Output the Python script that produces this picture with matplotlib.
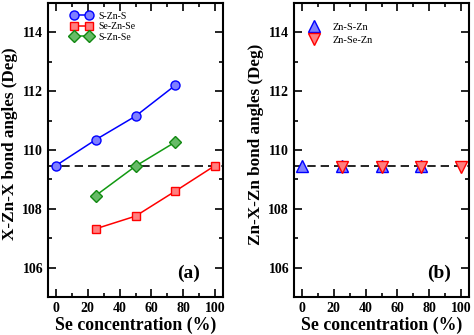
import matplotlib
matplotlib.use("Agg")
import matplotlib.pyplot as plt
from matplotlib.ticker import MultipleLocator

plt.rcParams['font.family'] = ['Liberation Serif', 'DejaVu Serif']
plt.rcParams['mathtext.fontset'] = 'stix'

# panel (a) data
x_szns = [0, 25, 50, 75]
y_szns = [109.47, 110.35, 111.15, 112.2]
x_sezns = [25, 50, 75, 100]
y_sezns = [107.32, 107.75, 108.6, 109.47]
x_sznse = [25, 50, 75]
y_sznse = [108.45, 109.45, 110.27]

# panel (b) data
x_znszn = [0, 25, 50, 75]
y_znszn = [109.47, 109.47, 109.47, 109.47]
x_znsezn = [25, 50, 75, 100]
y_znsezn = [109.42, 109.42, 109.42, 109.42]

ideal = 109.47
xticks = [0, 20, 40, 60, 80, 100]
yticks = [106, 108, 110, 112, 114]

fig = plt.figure(figsize=(4.74, 3.35), dpi=100)
ax1 = fig.add_axes([48/474, 1 - 297/335, 175/474, 294/335])
ax2 = fig.add_axes([294/474, 1 - 297/335, 175/474, 294/335])

ax1.plot([-5, 105], [ideal, ideal], '--', color='black', lw=1.2, dashes=(5, 3), zorder=1)
ax1.plot(x_szns, y_szns, '-o', color='blue', mfc='#7f7fff', mec='blue', ms=6.5, lw=1.1, label='S-Zn-S')
ax1.plot(x_sezns, y_sezns, '-s', color='red', mfc='#ff7f7f', mec='red', ms=6, lw=1.1, label='Se-Zn-Se')
ax1.plot(x_sznse, y_sznse, '-D', color='#119911', mfc='#66bb66', mec='#118811', ms=6, lw=1.1, label='S-Zn-Se')
ax1.legend(loc='upper left', frameon=False, fontsize=7, numpoints=2, handlelength=2.2,
           bbox_to_anchor=(0.08, 1.0), labelspacing=0.15, handletextpad=0.6)
ax1.set_ylabel('X-Zn-X bond angles (Deg)', fontsize=12.3, fontweight='bold')
ax1.yaxis.set_label_coords(-0.17, 0.52)
ax1.text(0.87, 0.05, '(a)', transform=ax1.transAxes, ha='right', va='bottom',
         fontsize=14, fontweight='bold')

ax2.plot([-5, 105], [ideal, ideal], '--', color='black', lw=1.2, dashes=(5, 3), zorder=1)
ax2.plot(x_znszn, y_znszn, '^', color='blue', mfc='#7f7fff', mec='blue', ms=8, ls='none', label='Zn-S-Zn')
ax2.plot(x_znsezn, y_znsezn, 'v', color='red', mfc='#ff7f7f', mec='red', ms=8, ls='none', label='Zn-Se-Zn')
ax2.legend(loc='upper left', frameon=False, fontsize=7.5, handletextpad=0.8,
           bbox_to_anchor=(0.0, 0.965), labelspacing=0.35)
ax2.set_ylabel('Zn-X-Zn bond angles (Deg)', fontsize=12.3, fontweight='bold')
ax2.yaxis.set_label_coords(-0.17, 0.52)
ax2.text(0.9, 0.05, '(b)', transform=ax2.transAxes, ha='right', va='bottom',
         fontsize=14, fontweight='bold')

for ax in (ax1, ax2):
    ax.set_xlim(-5, 105)
    ax.set_ylim(105, 115)
    ax.set_xticks(xticks)
    ax.set_yticks(yticks)
    ax.xaxis.set_minor_locator(MultipleLocator(10))
    ax.yaxis.set_minor_locator(MultipleLocator(1))
    ax.tick_params(which='both', direction='in', top=True, right=True, width=1.2)
    ax.tick_params(which='major', length=6, labelsize=10)
    ax.tick_params(which='minor', length=3)
    for lab in ax.get_xticklabels() + ax.get_yticklabels():
        lab.set_fontweight('bold')
    for sp in ax.spines.values():
        sp.set_linewidth(1.5)
    ax.set_xlabel('Se concentration (%)', fontsize=12.8, fontweight='bold', labelpad=1)

fig.savefig('out.png', dpi=100)
